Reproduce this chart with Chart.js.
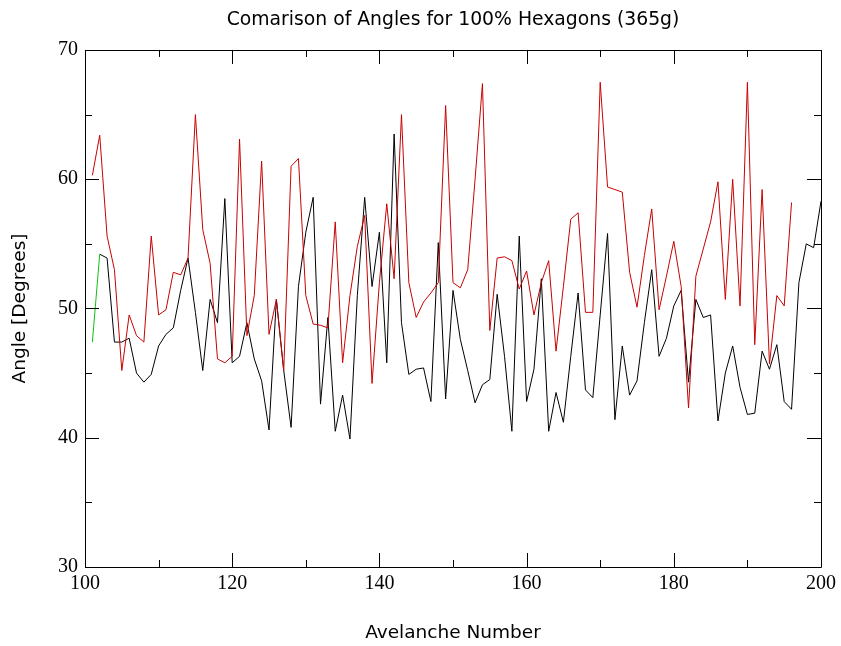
<!DOCTYPE html>
<html>
<head>
<meta charset="utf-8">
<script src="https://cdn.jsdelivr.net/npm/chart.js@4/dist/chart.umd.min.js"></script>
<style>
  html, body { margin: 0; padding: 0; background: #ffffff; }
  #wrap { width: 841px; height: 646px; }
</style>
</head>
<body>
<div id="wrap"><canvas id="c" width="841" height="646"></canvas></div>
<script>
// ---- data ----
const chartTitle = "Comarison of Angles for 100% Hexagons (365g)";
const xTitle = "Avelanche Number";
const yTitle = "Angle [Degrees]";

const greenStart = 101;
const greenValues = [47.4, 54.2];

const redStart = 101;
const redValues = [
  60.3, 63.4, 55.6, 53.0, 45.2, 49.5, 47.9, 47.4, 55.6, 49.5,
  49.9, 52.8, 52.6, 53.9, 65.0, 56.1, 53.5, 46.1, 45.8, 46.3,
  63.1, 47.9, 51.0, 61.4, 48.0, 50.7, 45.2, 61.0, 61.6, 51.0,
  48.8, 48.7, 48.5, 56.7, 45.8, 51.0, 54.8, 57.2, 44.2, 52.0,
  58.1, 52.3, 65.0, 52.0, 49.3, 50.5, 51.2, 52.0, 65.7, 52.0,
  51.6, 53.0, 60.0, 67.4, 48.3, 53.9, 54.0, 53.7, 51.5, 52.9,
  49.5, 52.0, 53.7, 46.7, 51.7, 56.9, 57.4, 49.7, 49.7, 67.5,
  59.4, 59.2, 59.0, 52.8, 50.1, 54.1, 57.7, 49.9, 52.5, 55.2,
  51.7, 42.3, 52.5, 54.6, 56.7, 59.8, 50.7, 60.0, 50.2, 67.5,
  47.2, 59.2, 45.7, 51.0, 50.2, 58.2
];

const blackStart = 102;
const blackValues = [
  54.2, 53.9, 47.4, 47.4, 47.7, 45.0, 44.3, 44.9, 47.1,
  48.0, 48.5, 51.4, 53.9, 49.7, 45.2, 50.7, 48.9, 58.5, 45.8,
  46.3, 48.9, 46.1, 44.4, 40.6, 50.7, 45.2, 40.8, 51.7, 55.9,
  58.6, 42.6, 49.3, 40.5, 43.3, 39.9, 51.0, 58.6, 51.7, 55.9,
  45.8, 63.5, 48.9, 44.9, 45.3, 45.4, 42.8, 55.1, 43.0, 51.4,
  47.6, 45.2, 42.7, 44.1, 44.5, 51.1, 46.3, 40.5, 55.6, 42.8,
  45.3, 52.3, 40.5, 43.5, 41.2, 46.3, 51.2, 43.7, 43.1, 49.5,
  55.8, 41.4, 47.1, 43.3, 44.4, 48.9, 53.0, 46.3, 47.7, 50.2,
  51.4, 44.3, 50.7, 49.3, 49.5, 41.3, 45.0, 47.1, 43.9, 41.8,
  41.9, 46.7, 45.3, 47.2, 42.8, 42.2, 52.0, 55.0, 54.7, 58.3
];

const xTickLabels = [100, 120, 140, 160, 180, 200];
const xMinorTicks = [110, 130, 150, 170, 190];
const yTickLabels = [30, 40, 50, 60, 70];
const yMinorTicks = [35, 45, 55, 65];

// ---- build datasets ----
function toPoints(start, values) {
  return values.map((v, i) => ({ x: start + i, y: v }));
}

const frameTicks = {
  id: 'frameTicks',
  afterDatasetsDraw(chart) {
    const { ctx, chartArea: a, scales: { x, y } } = chart;
    ctx.save();
    ctx.strokeStyle = '#000';
    ctx.lineWidth = 1;
    ctx.beginPath();
    ctx.rect(Math.round(a.left) + 0.5, Math.round(a.top) + 0.5,
             Math.round(a.right - a.left), Math.round(a.bottom - a.top));
    ctx.stroke();
    const major = 14, minor = 7;
    ctx.beginPath();
    const vx = (v, len) => {
      const px = Math.round(x.getPixelForValue(v)) + 0.5;
      ctx.moveTo(px, a.bottom); ctx.lineTo(px, a.bottom - len);
      ctx.moveTo(px, a.top); ctx.lineTo(px, a.top + len);
    };
    const hy = (v, len) => {
      const py = Math.round(y.getPixelForValue(v)) + 0.5;
      ctx.moveTo(a.left, py); ctx.lineTo(a.left + len, py);
      ctx.moveTo(a.right, py); ctx.lineTo(a.right - len, py);
    };
    xTickLabels.forEach(v => vx(v, major));
    xMinorTicks.forEach(v => vx(v, minor));
    yTickLabels.forEach(v => hy(v, major));
    yMinorTicks.forEach(v => hy(v, minor));
    ctx.stroke();
    ctx.restore();
  }
};

new Chart(document.getElementById('c'), {
  type: 'line',
  data: {
    datasets: [
      { label: 'green', data: toPoints(greenStart, greenValues), borderColor: '#10c010', borderWidth: 1, pointRadius: 0, tension: 0 },
      { label: 'red', data: toPoints(redStart, redValues), borderColor: '#c80000', borderWidth: 1, pointRadius: 0, tension: 0 },
      { label: 'black', data: toPoints(blackStart, blackValues), borderColor: '#000000', borderWidth: 1, pointRadius: 0, tension: 0 }
    ]
  },
  options: {
    responsive: false,
    animation: false,
    layout: { padding: { left: 0, right: 19, top: 0, bottom: 0 } },
    plugins: {
      legend: { display: false },
      tooltip: { enabled: false },
      title: {
        display: true,
        fullSize: false,
        text: chartTitle,
        color: '#000',
        font: { family: 'DejaVu Sans', size: 18.8, weight: 'normal' },
        padding: { top: 9, bottom: 18.4 }
      }
    },
    scales: {
      x: {
        type: 'linear',
        min: 100, max: 200,
        afterBuildTicks(s) { s.ticks = xTickLabels.map(v => ({ value: v })); },
        afterFit(s) { s.height = 79; },
        grid: { display: false, drawTicks: false },
        border: { display: false },
        ticks: {
          color: '#000',
          padding: 5,
          maxRotation: 0,
          font: { family: 'Liberation Serif', size: 20 }
        },
        title: {
          display: true,
          text: xTitle,
          color: '#000',
          font: { family: 'DejaVu Sans', size: 18.5 },
          padding: { top: 0, bottom: 2 }
        }
      },
      y: {
        type: 'linear',
        min: 30, max: 70,
        afterBuildTicks(s) { s.ticks = yTickLabels.map(v => ({ value: v })); },
        afterFit(s) { s.width = 85; },
        grid: { display: false, drawTicks: false },
        border: { display: false },
        ticks: {
          color: '#000',
          padding: 7,
          font: { family: 'Liberation Serif', size: 20 }
        },
        title: {
          display: true,
          text: yTitle,
          color: '#000',
          font: { family: 'DejaVu Sans', size: 18.5 },
          padding: { top: 9, bottom: 0 }
        }
      }
    }
  },
  plugins: [frameTicks]
});
</script>
</body>
</html>
